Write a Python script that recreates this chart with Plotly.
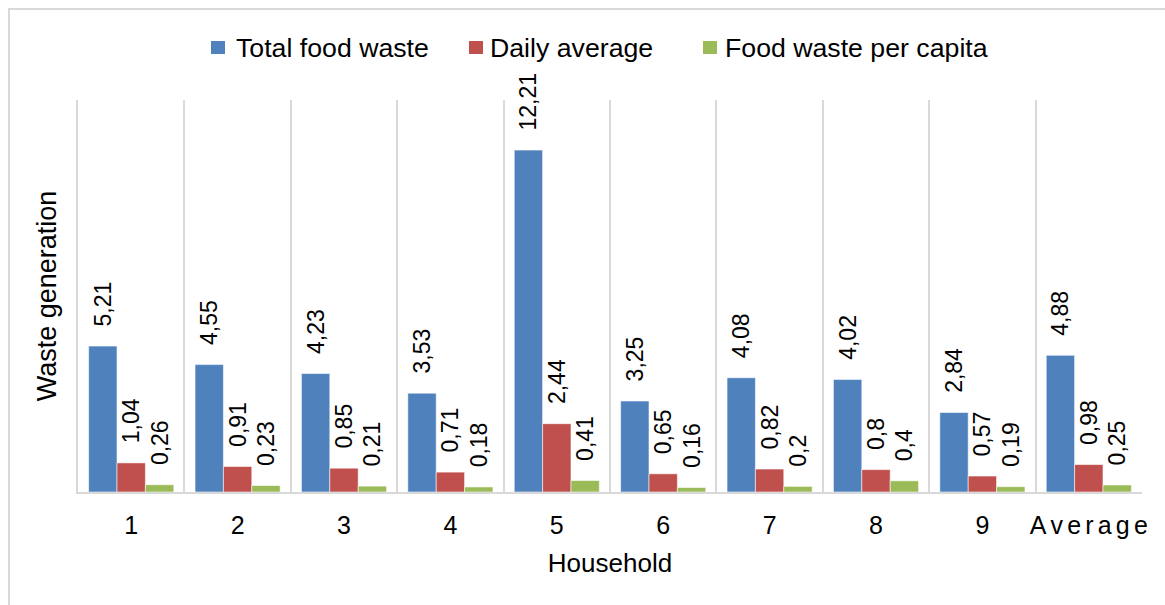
import plotly.graph_objects as go

# Food waste per household (kg)
households = ["1", "2", "3", "4", "5", "6", "7", "8", "9", "Average"]
total_food_waste = [5.21, 4.55, 4.23, 3.53, 12.21, 3.25, 4.08, 4.02, 2.84, 4.88]
daily_average = [1.04, 0.91, 0.85, 0.71, 2.44, 0.65, 0.82, 0.80, 0.57, 0.98]
per_capita = [0.26, 0.23, 0.21, 0.18, 0.41, 0.16, 0.20, 0.40, 0.19, 0.25]

series = [
    ("Total food waste", total_food_waste, "#4F81BD"),
    ("Daily average", daily_average, "#C0504D"),
    ("Food waste per capita", per_capita, "#9BBB59"),
]

W, H = 1165, 605
L, R, T, B = 78, 23, 100, 113
PW, PH = W - L - R, H - T - B


def px_x(x):
    return (x - L) / PW


def px_y(y):
    return (H - B - y) / PH


def comma(v):
    return f"{v:g}".replace(".", ",")


FONT = "Arial, Liberation Sans, sans-serif"
LABEL_PAD = "\u00a0\u00a0\u2006"

# spaced-out category label for the summary group
tick_text = [h if h != "Average" else "\u2006".join(h) for h in households]

fig = go.Figure()
for name, vals, color in series:
    fig.add_trace(go.Bar(
        name=name,
        x=households,
        y=vals,
        marker=dict(color=color, line=dict(color="rgba(255,255,255,0.55)", width=1)),
        text=[LABEL_PAD + comma(v) for v in vals],
        textposition="outside",
        textangle=-90,
        textfont=dict(family=FONT, size=23, color="#000000"),
        constraintext="none",
        cliponaxis=False,
        showlegend=False,
    ))

# legend entries: colour swatch + label
legend_items = [(211, 234), (469, 488), (703, 723)]
shapes = []
annotations = []
for (sx, tx), (name, _, color) in zip(legend_items, series):
    shapes.append(dict(
        type="rect", xref="paper", yref="paper",
        x0=px_x(sx), x1=px_x(sx + 14), y0=px_y(54), y1=px_y(41),
        fillcolor=color, line=dict(width=0),
    ))
    annotations.append(dict(
        text=name, xref="paper", yref="paper",
        x=px_x(tx), y=px_y(48), xanchor="left", yanchor="middle",
        showarrow=False, font=dict(family=FONT, size=26.7, color="#000000"),
    ))

# chart area border
shapes.append(dict(
    type="rect", xref="paper", yref="paper",
    x0=px_x(9), x1=px_x(W + 20), y0=px_y(H + 20), y1=px_y(9),
    line=dict(color="#D9D9D9", width=2), fillcolor="rgba(0,0,0,0)", layer="below",
))

fig.update_layout(
    width=W, height=H,
    margin=dict(l=L, r=R, t=T, b=B, autoexpand=False),
    paper_bgcolor="#FFFFFF",
    plot_bgcolor="#FFFFFF",
    barmode="group",
    bargap=0.2,
    bargroupgap=0,
    font=dict(family=FONT, size=26, color="#000000"),
    shapes=shapes,
    annotations=annotations,
    xaxis=dict(
        type="category",
        tickmode="array",
        tickvals=households,
        ticktext=tick_text,
        tickangle=0,
        tickson="boundaries",
        ticks="",
        ticklabelstandoff=10,
        showgrid=True,
        gridcolor="#D9D9D9",
        gridwidth=2,
        showline=True,
        linecolor="#D9D9D9",
        linewidth=2,
        tickfont=dict(family=FONT, size=25, color="#000000"),
        title=dict(text="Household", font=dict(family=FONT, size=26, color="#000000"), standoff=16),
        automargin=False,
    ),
    yaxis=dict(
        range=[0, 14],
        showticklabels=False,
        showgrid=False,
        zeroline=False,
        ticks="",
        showline=True,
        linecolor="#D9D9D9",
        linewidth=2,
        title=dict(text="Waste generation", font=dict(family=FONT, size=27, color="#000000"), standoff=12),
        automargin=False,
    ),
)

fig.write_html("out.html")
